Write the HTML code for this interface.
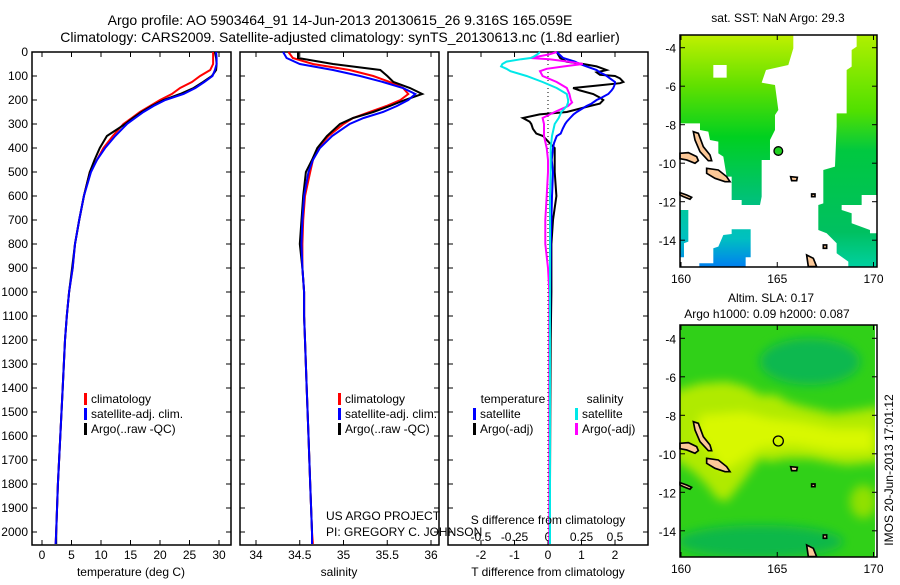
<!DOCTYPE html>
<html><head><meta charset="utf-8"><style>
body{margin:0;background:#fff;}
svg text{font-family:"Liberation Sans",sans-serif;font-size:12px;fill:#000;}
</style></head><body>
<svg id="chart" width="900" height="580" viewBox="0 0 900 580" xmlns="http://www.w3.org/2000/svg">
<defs>
<linearGradient id="g1" x1="0" y1="105" x2="0" y2="615" gradientUnits="userSpaceOnUse"><stop offset="0" stop-color="#c0f000"/><stop offset="0.3" stop-color="#60e000"/><stop offset="0.6" stop-color="#00d020"/><stop offset="1" stop-color="#00c080"/></linearGradient>
<linearGradient id="g2" x1="0" y1="105" x2="0" y2="800" gradientUnits="userSpaceOnUse"><stop offset="0" stop-color="#b0f000"/><stop offset="0.33" stop-color="#50e000"/><stop offset="0.5" stop-color="#00c840"/><stop offset="0.85" stop-color="#00c060"/><stop offset="1" stop-color="#00d0a0"/></linearGradient>
<linearGradient id="g3" x1="0" y1="630" x2="0" y2="800" gradientUnits="userSpaceOnUse"><stop offset="0" stop-color="#00c8a0"/><stop offset="0.5" stop-color="#00c0c0"/><stop offset="1" stop-color="#0080f0"/></linearGradient>
<filter id="bl" x="-30%" y="-30%" width="160%" height="160%"><feGaussianBlur stdDeviation="15"/></filter>
<clipPath id="c2"><rect x="60" y="120" width="585" height="695"/></clipPath>
<g id="isl" fill="#fcc898" stroke="#000" stroke-width="5">
<path d="M100,395 L115,400 L130,440 L150,465 L155,482 L145,482 L120,455 L105,420Z"/>
<path d="M60,460 L85,458 L110,470 L115,482 L105,490 L80,480 L60,476Z"/>
<path d="M140,505 L175,510 L200,530 L210,545 L195,545 L165,535 L140,520Z"/>
<path d="M60,578 L80,585 L95,592 L90,598 L70,590 L60,585Z"/>
<path d="M392,530 L412,532 L410,542 L395,542Z"/>
<path d="M455,582 L465,582 L465,590 L455,590Z"/>
<path d="M490,735 L500,735 L500,745 L490,745Z"/>
<path d="M440,765 L460,775 L470,800 L445,800Z"/>
</g>
</defs>

<text x="340" y="25" text-anchor="middle" style="font-size:14px">Argo profile: AO 5903464_91 14-Jun-2013 20130615_26 9.316S 165.059E</text>
<text x="340" y="42" text-anchor="middle" style="font-size:14px">Climatology: CARS2009. Satellite-adjusted climatology: synTS_20130613.nc (1.8d earlier)</text>

<g id="panels"></g>

<!-- map 1 -->
<g>
<text x="778" y="22" text-anchor="middle">sat. SST: NaN Argo: 29.3</text>
<g transform="translate(660,0) scale(0.3333)">
<path fill="url(#g1)" d="M60,105 L400,105 L400,145 L385,195 L318,210 L305,248 L345,255 L355,330 L345,345 L345,390 L330,420 L330,480 L305,480 L305,590 L300,615 L245,615 L245,600 L215,600 L215,530 L200,530 L190,470 L175,460 L175,425 L150,420 L145,395 L120,390 L120,370 L60,370Z"/>
<rect x="160" y="195" width="40" height="38" fill="#fff"/>
<path fill="url(#g2)" d="M590,105 L652,105 L652,585 L605,585 L605,615 L545,615 L545,630 L575,640 L575,670 L630,690 L630,700 L652,700 L652,800 L565,800 L565,785 L530,760 L530,730 L500,700 L475,690 L475,615 L490,610 L490,510 L525,500 L530,380 L530,340 L560,340 L560,210 L575,200 L575,150 L590,140Z"/>
<path fill="url(#g3)" d="M60,630 L85,630 L85,725 L72,730 L72,772 L60,772Z"/>
<path fill="url(#g3)" d="M215,688 L272,688 L272,772 L257,772 L257,800 L118,800 L118,790 L160,790 L160,745 L175,740 L190,705 L215,702Z"/>
<use href="#isl"/>
<circle cx="355" cy="453" r="13" fill="#20d020" stroke="#000" stroke-width="4"/>
</g>
</g>

<!-- map 2 -->
<g>
<text x="771" y="302" text-anchor="middle">Altim. SLA: 0.17</text>
<text x="767" y="318" text-anchor="middle">Argo h1000: 0.09 h2000: 0.087</text>
<g transform="translate(660,285) scale(0.3333)">
<rect x="60" y="120" width="585" height="695" fill="#30d018"/>
<g clip-path="url(#c2)">
<ellipse cx="450" cy="230" rx="150" ry="70" fill="#10b850" filter="url(#bl)"/>
<ellipse cx="300" cy="770" rx="250" ry="50" fill="#10b848" filter="url(#bl)"/>
<path fill="#b0ea00" filter="url(#bl)" d="M40,320 L120,295 L200,290 L260,305 L300,330 L350,330 L380,350 L430,365 L520,385 L600,375 L660,365 L660,530 L560,540 L500,530 L450,520 L380,520 L330,530 L300,520 L270,560 L240,600 L200,650 L170,640 L140,600 L100,560 L40,520Z"/>
<path fill="#d8f800" filter="url(#bl)" d="M120,390 L250,380 L330,400 L420,410 L520,430 L640,430 L640,500 L520,500 L400,480 L300,490 L240,530 L190,560 L150,500 L110,450Z"/>
<ellipse cx="610" cy="650" rx="40" ry="50" fill="#90e000" filter="url(#bl)"/>
</g>
<use href="#isl" transform="translate(0,15)"/>
<circle cx="355" cy="468" r="15" fill="none" stroke="#000" stroke-width="4"/>
</g>
<text transform="translate(893,470) rotate(-90)" text-anchor="middle">IMOS 20-Jun-2013 17:01:12</text>
</g>
<g id="mapaxes"></g>
</svg>
<script>
// depth levels (dbar) shared by profile series
const depths = [0,25,50,75,100,125,150,175,200,225,250,275,300,350,400,450,500,600,700,800,900,1000,1100,1200,1400,1600,1800,2000,2050];
const tempClim = [29.0,29.0,29.0,28.5,26.8,25.4,23.4,22.0,20.0,18.3,16.6,15.2,13.8,12.0,10.4,9.3,8.1,7.1,6.3,5.6,5.2,4.6,4.2,3.9,3.5,3.1,2.7,2.4,2.3];
const tempSat  = [29.5,29.6,29.6,29.3,28.9,27.5,26.0,24.0,20.9,18.9,17.2,15.8,14.4,12.4,10.7,9.3,8.3,7.1,6.3,5.6,5.2,4.6,4.2,3.9,3.5,3.1,2.7,2.4,2.3];
const tempArgo = [29.3,29.5,29.6,29.5,28.8,27.3,25.7,23.4,20.6,18.6,16.9,15.4,14.1,11.0,9.8,8.9,8.1,7.1,6.3,5.6,5.1,4.6,4.2,3.9,3.5,3.1,2.7,2.4,2.4];
const salClim = [34.37,34.42,34.65,35.07,35.34,35.53,35.68,35.74,35.65,35.49,35.30,35.11,35.00,34.83,34.71,34.65,34.62,34.56,34.54,34.53,34.53,34.55,34.55,34.56,34.58,34.60,34.62,34.64,34.65];
const salSat  = [34.31,34.35,34.50,34.88,35.19,35.45,35.68,35.82,35.74,35.61,35.45,35.23,35.07,34.87,34.73,34.65,34.60,34.55,34.53,34.52,34.53,34.55,34.55,34.56,34.58,34.60,34.62,34.64,34.64];
const salArgo = [34.48,34.48,34.88,35.42,35.50,35.57,35.76,35.90,35.70,35.53,35.34,35.11,34.96,34.81,34.70,34.64,34.57,34.54,34.52,34.50,34.53,34.55,34.55,34.56,34.58,34.60,34.62,34.64,34.64];
const dTdepths = [0,25,40,50,60,70,75,85,95,100,110,125,130,140,150,160,175,190,200,215,225,250,260,275,290,300,320,340,350,380,400,450,500,600,700,800,1000,1200,1500,1800,2050];
const dTSat  = [0.26,0.45,0.8,0.95,1.15,1.35,1.45,1.55,1.7,1.75,1.85,2.0,2.0,1.98,1.95,1.9,1.8,1.6,1.45,1.3,1.15,0.86,0.76,0.66,0.56,0.51,0.44,0.38,0.26,0.18,0.15,0.11,0.15,0.12,0.1,0.08,0.07,0.06,0.05,0.05,0.05];
const dTArgo = [0.26,0.36,0.55,1.05,1.45,1.65,1.75,1.45,1.55,2.0,2.15,2.25,2.15,1.45,0.75,0.95,1.35,1.55,1.65,1.55,1.25,0.56,-0.25,-0.75,-0.55,-0.5,-0.45,-0.35,-0.15,0.05,0.2,0.2,0.2,0.25,0.15,0.1,0.1,0.08,0.07,0.06,0.06];
const dSdepths = [0,10,20,25,30,40,50,60,70,80,100,125,150,175,200,210,225,250,275,300,350,400,450,500,600,700,800,900,1000,1500,2050];
const dSSat  = [-0.06,-0.08,-0.11,-0.13,-0.2,-0.31,-0.34,-0.35,-0.31,-0.28,-0.16,-0.04,0.065,0.14,0.15,0.15,0.14,0.10,0.08,0.05,0.03,0.02,0.02,0.02,0.015,0.015,0.015,0.015,0.015,0.015,0.015];
const dSArgo = [0.065,0.01,-0.085,-0.13,0.01,0.15,0.26,0.12,-0.01,-0.06,-0.04,0.065,0.14,0.16,0.17,0.18,0.15,0.05,-0.04,-0.03,-0.03,-0.01,0.0,0.0,-0.01,-0.02,-0.02,0.0,0.01,0.01,0.01];
const depthTicks = [0,100,200,300,400,500,600,700,800,900,1000,1100,1200,1300,1400,1500,1600,1700,1800,1900,2000];
const tempTicks = [0,5,10,15,20,25,30];
const salTicks = [34,34.5,35,35.5,36];
const dTTicks = [-2,-1,0,1,2];
const dSTicks = [-0.5,-0.25,0,0.25,0.5];
const latTicks = [-4,-6,-8,-10,-12,-14];
const lonTicks = [160,165,170];

const NS='http://www.w3.org/2000/svg';
const root=document.getElementById('panels');
const top0=52, bot=545;
const yD = d => top0 + d*0.24;
const xT = t => 42 + t*5.9;
const xS = s => 256 + (s-34)*87.5;
const xdT = t => 548 + t*33.5;
const xdS = s => 548 + s*134;
function el(tag, attrs, parent){const e=document.createElementNS(NS,tag);for(const k in attrs)e.setAttribute(k,attrs[k]);(parent||root).appendChild(e);return e;}
function txt(x,y,s,anchor,parent){const t=el('text',{x:x,y:y,'text-anchor':anchor||'middle'},parent);t.textContent=s;return t;}

const panels=[[32,231],[240,439],[448,648]];
panels.forEach((p,i)=>{
  const r=el('rect',{x:p[0],y:top0,width:p[1]-p[0],height:bot-top0,fill:'none',stroke:'#000','stroke-width':1.5});
  
  
  depthTicks.forEach(d=>{
    el('line',{x1:p[0],x2:p[0]+5,y1:yD(d),y2:yD(d),stroke:'#000'});
    el('line',{x1:p[1]-5,x2:p[1],y1:yD(d),y2:yD(d),stroke:'#000'});
  });
});
depthTicks.forEach(d=>{const t=txt(28,yD(d)+4,String(d),'end');
  
  });

function xticks(vals,fx,p,labY,fmt){vals.forEach(v=>{const x=fx(v);
  el('line',{x1:x,x2:x,y1:bot-5,y2:bot,stroke:'#000'});
  el('line',{x1:x,x2:x,y1:top0,y2:top0+5,stroke:'#000'});
  if(labY){const t=txt(x,labY,fmt?fmt(v):String(v));
  
  }});}
xticks(tempTicks,xT,panels[0],559);
xticks(salTicks,xS,panels[1],559);
xticks(dTTicks,xdT,panels[2],559);
dSTicks.forEach(v=>{const t=txt(xdS(v),541,String(v));
  
  });

function line(xs,ds,fx,color,name,w){
  const pts=xs.map((v,i)=>fx(v).toFixed(1)+','+yD(ds[i]).toFixed(1)).join(' ');
  const pl=el('polyline',{points:pts,fill:'none',stroke:color,'stroke-width':w||2});
  
  
}
line(tempClim,depths,xT,'#ff0000','temp-climatology-line');
line(tempArgo,depths,xT,'#000000','temp-argo-line');
line(tempSat,depths,xT,'#0000ff','temp-satellite-line');
line(salClim,depths,xS,'#ff0000','salinity-climatology-line');
line(salArgo,depths,xS,'#000000','salinity-argo-line');
line(salSat,depths,xS,'#0000ff','salinity-satellite-line');
el('line',{x1:548,x2:548,y1:top0,y2:bot,stroke:'#000','stroke-dasharray':'1,3'});
line(dTArgo,dTdepths,xdT,'#000000','tdiff-argo-line');
line(dTSat,dTdepths,xdT,'#0000ff','tdiff-satellite-line');
line(dSArgo,dSdepths,xdS,'#ff00ff','sdiff-argo-line');
line(dSSat,dSdepths,xdS,'#00e8e8','sdiff-satellite-line');

function xlabel(x,y,s,n){const t=txt(x,y,s);
  
  }
xlabel(131,576,'temperature (deg C)','temperature-axis-title');
xlabel(339,576,'salinity','salinity-axis-title');
xlabel(548,576,'T difference from climatology','t-diff-axis-title');
xlabel(548,524,'S difference from climatology','s-diff-axis-title');

function legend(x,y,color,s,n){
  el('rect',{x:x,y:y-10,width:3,height:12,fill:color});
  const t=txt(x+7,y,s,'start');
  
  
}
legend(84,403,'#ff0000','climatology','legend-climatology');
legend(84,418,'#0000ff','satellite-adj. clim.','legend-satellite');
legend(84,433,'#000','Argo(..raw -QC)','legend-argo');
legend(338,403,'#ff0000','climatology','legend-sal-climatology');
legend(338,418,'#0000ff','satellite-adj. clim.','legend-sal-satellite');
legend(338,433,'#000','Argo(..raw -QC)','legend-sal-argo');
xlabel(513,403,'temperature','legend-temperature-header');
xlabel(605,403,'salinity','legend-salinity-header');
legend(473,418,'#0000ff','satellite','legend-tdiff-satellite');
legend(473,433,'#000','Argo(-adj)','legend-tdiff-argo');
legend(575,418,'#00e8e8','satellite','legend-sdiff-satellite');
legend(575,433,'#ff00ff','Argo(-adj)','legend-sdiff-argo');
const c1=txt(326,520,'US ARGO PROJECT','start');


const c2=txt(326,536,'PI: GREGORY C. JOHNSON','start');



// map axes
const ma=document.getElementById('mapaxes');
[[35,267,47.7],[325,557,338.3]].forEach((m,i)=>{
  const r=el('rect',{x:680,y:m[0],width:197,height:m[1]-m[0],fill:'none',stroke:'#000','stroke-width':1.5},ma);
  
  
  latTicks.forEach(l=>{const y=m[2]+(-l-4)*19.25;
    el('line',{x1:872,x2:877,y1:y,y2:y,stroke:'#000'},ma);
    el('line',{x1:680,x2:685,y1:y,y2:y,stroke:'#000'},ma);
    const t=txt(676,y+5,String(l),'end',ma);
    
    
  });
  lonTicks.forEach(l=>{const x=681+(l-160)*19.25;
    el('line',{x1:x,x2:x,y1:m[0],y2:m[0]+5,stroke:'#000'},ma);
    el('line',{x1:x,x2:x,y1:m[1]-5,y2:m[1],stroke:'#000'},ma);
    const t=txt(x,m[1]+16,String(l),'middle',ma);
    
    
  });
});
</script>
</body></html>
